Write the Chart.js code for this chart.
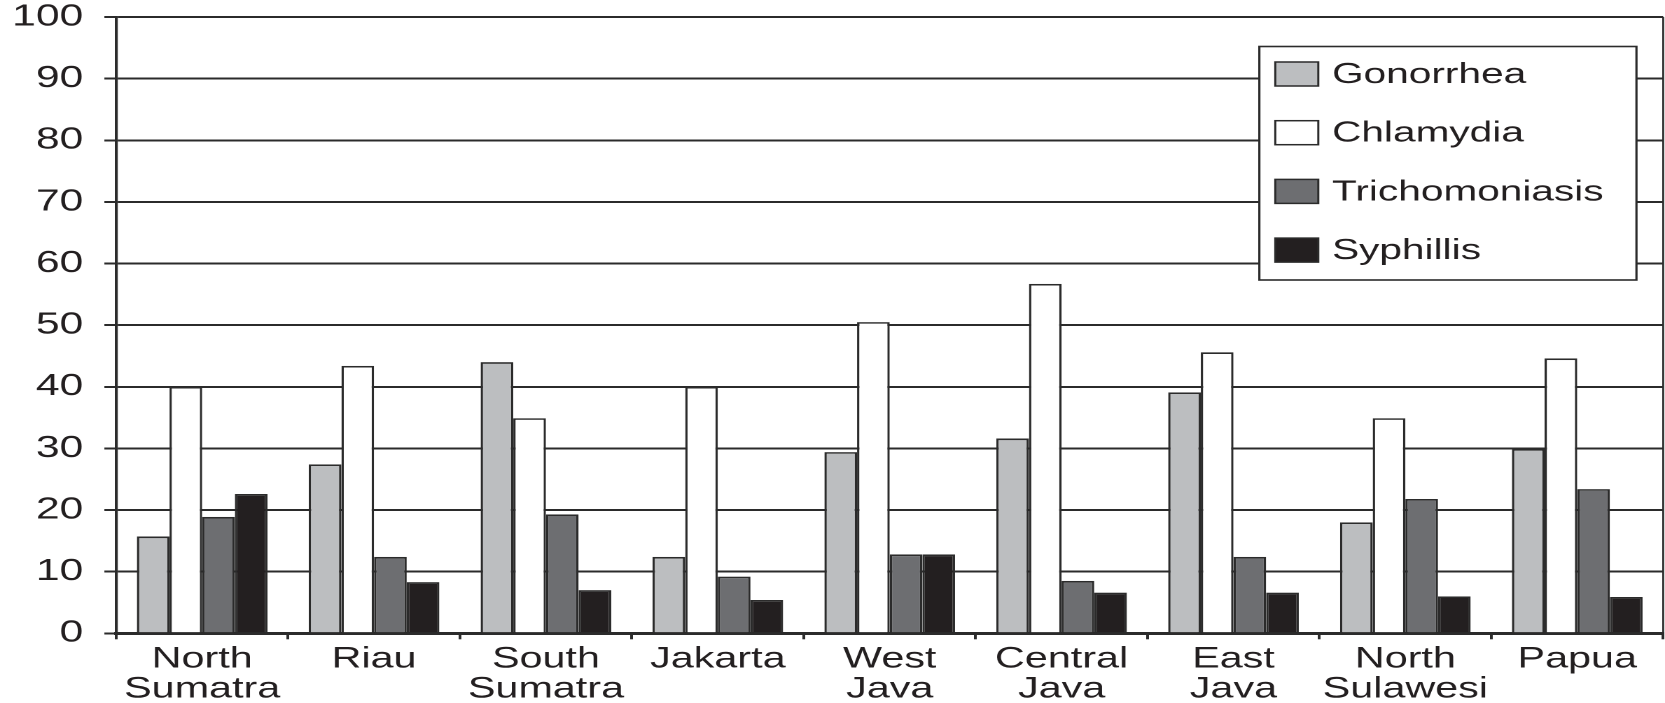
<!DOCTYPE html>
<html><head><meta charset="utf-8">
<script src="https://cdn.jsdelivr.net/npm/chart.js@4.4.0/dist/chart.umd.min.js"></script>
<style>
html,body{margin:0;padding:0;background:#fff;overflow:hidden;width:1665px;height:703px;}
#wrap{position:absolute;left:0;top:0;width:1189px;height:703px;transform:scaleX(1.40034);transform-origin:0 0;}
</style></head><body>
<div id="wrap"><canvas id="c"></canvas></div>
<script>
const categories = [['North','Sumatra'], 'Riau', ['South','Sumatra'], 'Jakarta', ['West','Java'], ['Central','Java'], ['East','Java'], ['North','Sulawesi'], 'Papua'];
const seriesNames = ['Gonorrhea', 'Chlamydia', 'Trichomoniasis', 'Syphillis'];
const gonorrhea = [15.7, 27.4, 44.0, 12.4, 29.4, 31.6, 39.1, 18.0, 29.9];
const chlamydia = [40.0, 43.4, 34.9, 40.0, 50.5, 56.7, 45.6, 34.9, 44.6];
const trichomoniasis = [18.9, 12.4, 19.3, 9.2, 12.8, 8.5, 12.4, 21.8, 23.4];
const syphillis = [22.6, 8.3, 7.0, 5.4, 12.8, 6.6, 6.6, 6.0, 5.9];
const yMin = 0, yMax = 100, yStep = 10;

const FONT = '"Liberation Sans", Arial, sans-serif';
const INK = '#231f20';
const LINE = '#2b2b2b';
const fills = ['#bcbec0', '#ffffff', '#6d6e71', '#231f20'];
const values = [gonorrhea, chlamydia, trichomoniasis, syphillis];

const legendBox = {
  id: 'legendBox',
  afterDraw(chart) {
    const ctx = chart.ctx;
    const ca = chart.chartArea;
    ctx.save();
    // right frame line
    ctx.strokeStyle = LINE;
    ctx.lineWidth = 1.4;
    ctx.beginPath();
    ctx.moveTo(ca.right, ca.top);
    ctx.lineTo(ca.right, ca.bottom);
    ctx.stroke();
    // legend box
    const left = 899.3, top = 46.5, right = 1168.6, bottom = 280;
    ctx.fillStyle = '#fff';
    ctx.fillRect(left, top, right - left, bottom - top);
    ctx.lineWidth = 1.6;
    ctx.strokeRect(left, top, right - left, bottom - top);
    chart.data.datasets.forEach((ds, i) => {
      const cy = 74 + i * 58.7;
      ctx.fillStyle = ds.backgroundColor;
      ctx.fillRect(910.7, cy - 12, 30.7, 24);
      ctx.strokeStyle = LINE;
      ctx.lineWidth = 1.5;
      ctx.strokeRect(910.7, cy - 12, 30.7, 24);
      ctx.fillStyle = INK;
      ctx.font = '29px ' + FONT;
      ctx.textBaseline = 'middle';
      ctx.textAlign = 'left';
      ctx.fillText(ds.label, 951.2, cy + 1);
    });
    ctx.restore();
  }
};

new Chart(document.getElementById('c'), {
  type: 'bar',
  data: {
    labels: categories,
    datasets: seriesNames.map((name, i) => ({
      label: name,
      data: values[i],
      backgroundColor: fills[i],
      borderColor: LINE,
      borderWidth: 1.7,
      barPercentage: 1.0,
      categoryPercentage: 0.76
    }))
  },
  options: {
    responsive: true,
    maintainAspectRatio: false,
    devicePixelRatio: 2,
    animation: false,
    layout: { padding: { top: 17, right: 1.3, left: 0, bottom: 0 } },
    plugins: { legend: { display: false }, tooltip: { enabled: false } },
    scales: {
      x: {
        grid: { drawOnChartArea: false, drawTicks: true, tickLength: 6, color: LINE, lineWidth: 2, offset: true },
        border: { display: true, color: LINE, width: 3 },
        ticks: { color: INK, font: { family: FONT, size: 29.5, lineHeight: 1.02 }, padding: 5, maxRotation: 0, autoSkip: false },
        afterFit(s) { s.height = 69.7; }
      },
      y: {
        min: yMin, max: yMax,
        ticks: { stepSize: yStep, color: INK, font: { family: FONT, size: 30.5 }, padding: 15 },
        grid: { color: LINE, lineWidth: 2, tickLength: 8.5 },
        border: { display: true, color: LINE, width: 2.1 },
        afterFit(s) { s.width = 83; s.paddingTop = 0; s.paddingBottom = 0; }
      }
    }
  },
  plugins: [legendBox]
});
</script>
</body></html>
